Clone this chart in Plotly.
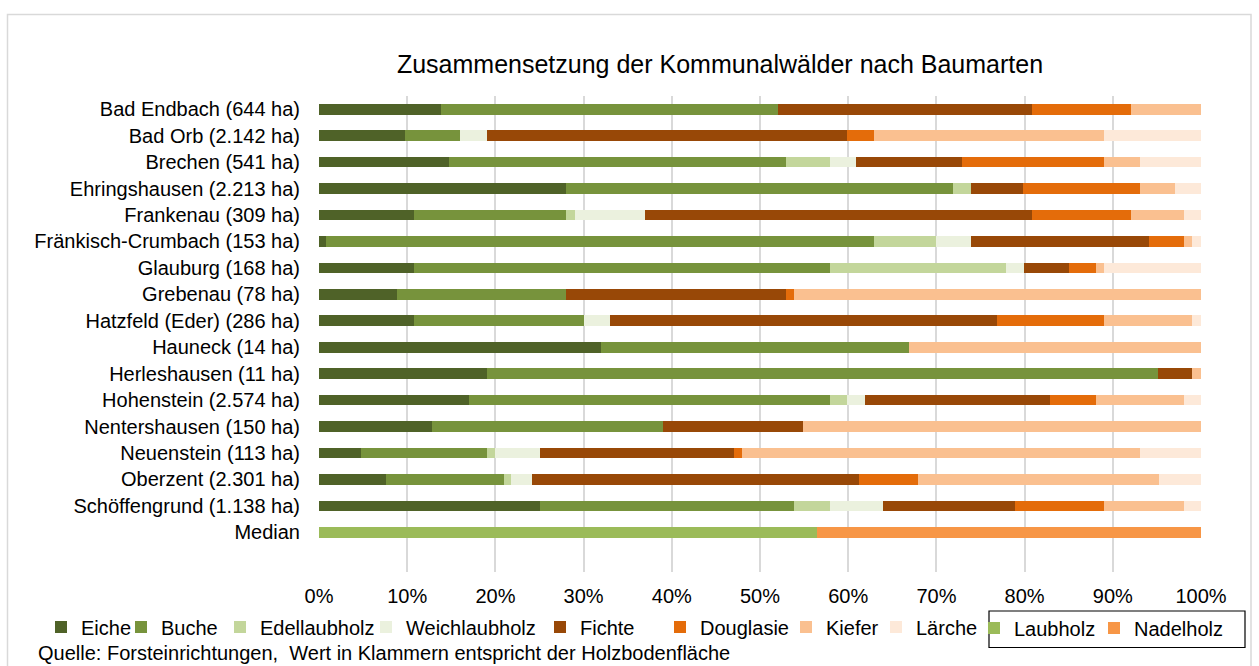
import plotly.graph_objects as go

# Gemeinden (Holzbodenfläche in Klammern)
communities = [
    "Bad Endbach (644 ha)", "Bad Orb (2.142 ha)", "Brechen (541 ha)",
    "Ehringshausen (2.213 ha)", "Frankenau (309 ha)", "Fränkisch-Crumbach (153 ha)",
    "Glauburg (168 ha)", "Grebenau (78 ha)", "Hatzfeld (Eder) (286 ha)",
    "Hauneck (14 ha)", "Herleshausen (11 ha)", "Hohenstein (2.574 ha)",
    "Nentershausen (150 ha)", "Neuenstein (113 ha)", "Oberzent (2.301 ha)",
    "Schöffengrund (1.138 ha)",
]
median_label = "Median"

# Anteile in %
eiche = [13.8, 9.8, 14.7, 28.0, 10.8, 0.8, 10.8, 8.8, 10.8, 32.0, 19.0, 17.0, 12.8, 4.8, 7.6, 25.0]
buche = [38.2, 6.2, 38.2, 43.9, 17.2, 62.1, 47.1, 19.2, 19.2, 34.9, 76.1, 40.9, 26.2, 14.2, 13.4, 28.9]
edellaubholz = [0, 0, 5.0, 2.0, 1.0, 7.0, 20.0, 0, 0, 0, 0, 2.0, 0, 1.0, 0.8, 4.0]
weichlaubholz = [0, 3.0, 3.0, 0, 8.0, 4.0, 2.0, 0, 3.0, 0, 0, 2.0, 0, 5.0, 2.4, 6.0]
fichte = [28.8, 40.9, 12.0, 5.9, 43.8, 20.2, 5.1, 24.9, 43.9, 0, 3.9, 21.0, 15.9, 22.0, 37.0, 15.0]
douglasie = [11.3, 3.0, 16.1, 13.3, 11.3, 4.0, 3.1, 1.0, 12.1, 0, 0, 5.2, 0, 1.0, 6.7, 10.1]
kiefer = [7.9, 26.1, 4.1, 4.0, 6.0, 0.9, 0.9, 46.1, 10.0, 33.1, 1.0, 10.0, 45.1, 45.1, 27.3, 9.1]
laerche = [0, 11.0, 6.9, 2.9, 1.9, 1.0, 11.0, 0, 1.0, 0, 0, 1.9, 0, 6.9, 4.8, 1.9]

median_laubholz = 56.5
median_nadelholz = 43.5

x_ticks = [0, 10, 20, 30, 40, 50, 60, 70, 80, 90, 100]
x_ticklabels = ["0%", "10%", "20%", "30%", "40%", "50%", "60%", "70%", "80%", "90%", "100%"]

species = [
    ("Eiche", eiche, "#4F6228"),
    ("Buche", buche, "#77933C"),
    ("Edellaubholz", edellaubholz, "#C3D69B"),
    ("Weichlaubholz", weichlaubholz, "#EBF1DE"),
    ("Fichte", fichte, "#984807"),
    ("Douglasie", douglasie, "#E46C0A"),
    ("Kiefer", kiefer, "#FAC090"),
    ("Lärche", laerche, "#FDE9D9"),
]
groups = [
    ("Laubholz", median_laubholz, "#9BBB59"),
    ("Nadelholz", median_nadelholz, "#F79646"),
]

# Abstand der Legendeneinträge (px)
legend_widths = {
    "Eiche": 35, "Buche": 54, "Edellaubholz": 101, "Weichlaubholz": 129,
    "Fichte": 75, "Douglasie": 81, "Kiefer": 45, "Lärche": 65,
    "Laubholz": 75, "Nadelholz": 92,
}

FONT = "Liberation Sans, Arial, sans-serif"
all_cats = communities + [median_label]

fig = go.Figure()

for name, vals, color in species:
    fig.add_trace(go.Bar(
        y=all_cats, x=vals + [None], name=name, orientation="h",
        marker=dict(color=color, line=dict(width=0)),
        width=0.4, legendwidth=legend_widths[name], legend="legend",
    ))

for name, val, color in groups:
    fig.add_trace(go.Bar(
        y=all_cats, x=[None] * len(communities) + [val], name=name, orientation="h",
        marker=dict(color=color, line=dict(width=0)),
        width=0.4, legendwidth=legend_widths[name], legend="legend2",
    ))

# plot area: x 319..1201, y 96..572
L, R, T, B = 319, 1259 - 1201, 96, 666 - 572
W, H = 1259 - L - R, 666 - T - B

def px_x(x):
    return (x - L) / W

def px_y(y):
    return (666 - B - y) / H

legend_style = dict(
    orientation="h", xanchor="left", yanchor="middle", yref="paper",
    font=dict(size=20), bgcolor="rgba(0,0,0,0)",
    traceorder="normal", itemwidth=30,
)

fig.update_layout(
    width=1259, height=666,
    margin=dict(l=L, r=R, t=T, b=B),
    barmode="stack",
    paper_bgcolor="white", plot_bgcolor="white",
    font=dict(family=FONT, size=20, color="#000000"),
    title=dict(
        text="Zusammensetzung der Kommunalwälder nach Baumarten",
        x=720 / 1259, xanchor="center", xref="container",
        y=1 - 64 / 666, yanchor="middle", yref="container",
        font=dict(size=25, color="#000000"),
    ),
    xaxis=dict(
        range=[0, 100], tickvals=x_ticks, ticktext=x_ticklabels,
        showgrid=True, gridcolor="#D9D9D9", gridwidth=1.5,
        zeroline=False, showline=False, ticks="",
        ticklabelstandoff=10, tickfont=dict(size=20),
    ),
    yaxis=dict(
        categoryorder="array", categoryarray=all_cats,
        range=[len(all_cats) + 0.5, -0.5],
        showgrid=False, zeroline=False, showline=False, ticks="",
        ticklabelstandoff=18, tickfont=dict(size=20),
    ),
    legend=dict(x=px_x(41), y=px_y(627), **legend_style),
    legend2=dict(x=px_x(974), y=px_y(628), **legend_style),
    shapes=[
        # Rahmen um das Diagramm
        dict(type="rect", xref="paper", yref="paper",
             x0=px_x(7.5), x1=px_x(1251), y0=px_y(670), y1=px_y(14.5),
             line=dict(color="#D9D9D9", width=1.5), fillcolor="rgba(0,0,0,0)",
             layer="below"),
        # Rahmen um Laubholz / Nadelholz
        dict(type="rect", xref="paper", yref="paper",
             x0=px_x(989), x1=px_x(1245), y0=px_y(647.5), y1=px_y(611),
             line=dict(color="#000000", width=1.2), fillcolor="rgba(0,0,0,0)"),
    ],
    annotations=[
        dict(text="Quelle: Forsteinrichtungen,  Wert in Klammern entspricht der Holzbodenfläche",
             xref="paper", yref="paper", x=px_x(36), y=px_y(653),
             xanchor="left", yanchor="middle", showarrow=False,
             font=dict(size=20, color="#000000")),
    ],
)

fig.write_html("out.html", config={"displayModeBar": False},
               post_script="document.body.style.margin='0px';")
